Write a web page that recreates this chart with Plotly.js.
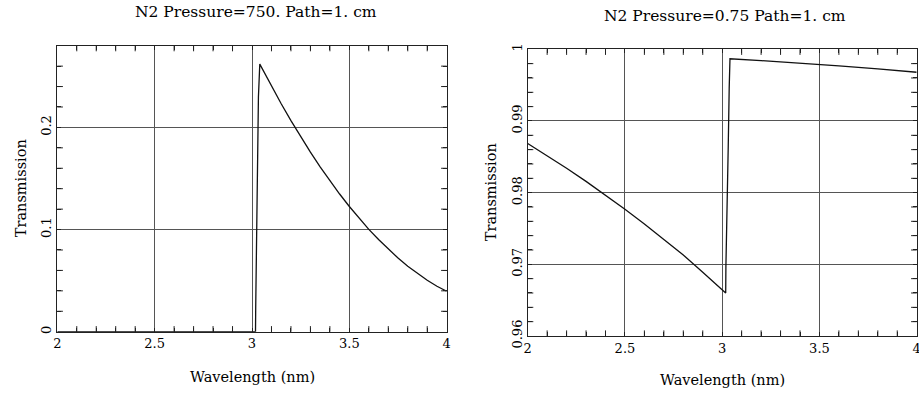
<!DOCTYPE html>
<html>
<head>
<meta charset="utf-8">
<script src="https://cdn.plot.ly/plotly-3.0.1.min.js"></script>
<style>html,body{margin:0;padding:0;background:#fff;}#chart{width:919px;height:393px;}</style>
</head>
<body>
<div id="chart"></div>
<script>
// ---- data ----
const leftTitle = "N2 Pressure=750. Path=1. cm";
const rightTitle = "N2 Pressure=0.75 Path=1. cm";
const xTitle = "Wavelength (nm)";
const yTitle = "Transmission";

const leftWavelength = [2.0, 3.018, 3.019, 3.026, 3.033, 3.040, 3.07, 3.1, 3.15, 3.2, 3.25, 3.3, 3.35, 3.4, 3.45, 3.5, 3.55, 3.6, 3.65, 3.7, 3.75, 3.8, 3.85, 3.9, 3.95, 4.0];
const leftTransmission = [0, 0, 0.023, 0.165, 0.230, 0.262, 0.2511, 0.2404, 0.2232, 0.2067, 0.1909, 0.1758, 0.1614, 0.1478, 0.1348, 0.1226, 0.1111, 0.1002, 0.0902, 0.0808, 0.0721, 0.0641, 0.0569, 0.0504, 0.0445, 0.0396];

const rightWavelength = [2.0, 2.1, 2.2, 2.3, 2.4, 2.5, 2.6, 2.7, 2.8, 2.9, 3.0, 3.018, 3.019, 3.026, 3.031, 3.036, 3.040, 3.2, 3.4, 3.6, 3.8, 4.0];
const rightTransmission = [0.98685, 0.98516, 0.98340, 0.98157, 0.97966, 0.97768, 0.97563, 0.97350, 0.97130, 0.96890, 0.96645, 0.96600, 0.9697, 0.9780, 0.9864, 0.9946, 0.99868, 0.99842, 0.99808, 0.99770, 0.99728, 0.99680];

// axis settings (ranges / tick steps)
const xRange = [2, 4], xMajor = 0.5, xMinor = 0.1;
const leftYRange = [0, 0.28], leftYMajor = 0.1, leftYMinor = 0.02;
const rightYRange = [0.96, 1.0], rightYMajor = 0.01, rightYMinor = 0.002;

// minor tick values (drawn as edge markers through the axis scales)
const xMinorTicks = [2.1, 2.2, 2.3, 2.4, 2.6, 2.7, 2.8, 2.9, 3.1, 3.2, 3.3, 3.4, 3.6, 3.7, 3.8, 3.9];
const leftYMinorTicks = [0.02, 0.04, 0.06, 0.08, 0.12, 0.14, 0.16, 0.18, 0.22, 0.24, 0.26];
const rightYMinorTicks = [0.962, 0.964, 0.966, 0.968, 0.972, 0.974, 0.976, 0.978, 0.982, 0.984, 0.986, 0.988, 0.992, 0.994, 0.996, 0.998];

const FONT = "DejaVu Serif, Liberation Serif, serif";
const W = 919, H = 393;
const px = v => v / W, py = v => 1 - v / H;

const LX = [px(57.3), px(446.7)], LY = [py(331.7), py(45.7)];
const RX = [px(527.7), px(916.7)], RY = [py(336), py(49.3)];

function xa(domain, anchor) {
  return {
    domain: domain, anchor: anchor, range: xRange, tickmode: 'linear', dtick: xMajor, tick0: xRange[0],
    showgrid: true, gridcolor: '#555', gridwidth: 1, zeroline: false,
    showline: true, linecolor: '#222', linewidth: 1, mirror: 'allticks',
    ticks: 'inside', ticklen: 4, tickcolor: '#222', tickwidth: 1,
    minor: {tickmode: 'linear', tick0: xRange[0], dtick: xMinor, ticks: 'inside', ticklen: 4, tickwidth: 1, tickcolor: '#222', showgrid: false},
    ticklabeloverflow: 'allow', automargin: false, fixedrange: true
  };
}
function ya(domain, anchor, range, dtick, minor) {
  return {
    domain: domain, anchor: anchor, range: range, tickmode: 'linear', dtick: dtick, tick0: range[0],
    showgrid: true, gridcolor: '#555', gridwidth: 1, zeroline: false,
    showline: true, linecolor: '#222', linewidth: 1, mirror: 'allticks',
    ticks: 'inside', ticklen: 4, tickcolor: '#222', tickwidth: 1, tickangle: -90,
    minor: {tickmode: 'linear', tick0: range[0], dtick: minor, ticks: 'inside', ticklen: 4, tickwidth: 1, tickcolor: '#222', showgrid: false},
    automargin: false, fixedrange: true
  };
}

// tick-mark traces: symbols centred on the frame edge, clipped so only the inner half shows
function edgeTicks(xaxis, yaxis, yRange, yMinorTicks) {
  const xs = xMinorTicks.concat(xMinorTicks);
  const ysX = xMinorTicks.map(() => yRange[0]).concat(xMinorTicks.map(() => yRange[1]));
  const xsY = yMinorTicks.map(() => xRange[0]).concat(yMinorTicks.map(() => xRange[1]));
  const ysY = yMinorTicks.concat(yMinorTicks);
  const mk = sym => ({symbol: sym, size: 8, color: '#222', line: {color: '#222', width: 1}});
  return [
    {x: xs, y: ysX, xaxis: xaxis, yaxis: yaxis, type: 'scatter', mode: 'markers', marker: mk('line-ns-open'),
     cliponaxis: true, showlegend: false, hoverinfo: 'skip'},
    {x: xsY, y: ysY, xaxis: xaxis, yaxis: yaxis, type: 'scatter', mode: 'markers', marker: mk('line-ew-open'),
     cliponaxis: true, showlegend: false, hoverinfo: 'skip'}
  ];
}

const traces = [
  {x: leftWavelength, y: leftTransmission, xaxis: 'x', yaxis: 'y', type: 'scatter', mode: 'lines',
   line: {color: '#111', width: 1.3}, showlegend: false},
  {x: rightWavelength, y: rightTransmission, xaxis: 'x2', yaxis: 'y2', type: 'scatter', mode: 'lines',
   line: {color: '#111', width: 1.3}, showlegend: false}
].concat(edgeTicks('x', 'y', leftYRange, leftYMinorTicks), edgeTicks('x2', 'y2', rightYRange, rightYMinorTicks));

function label(text, x, y, size, angle) {
  return {text: text, xref: 'paper', yref: 'paper', x: px(x), y: py(y), xanchor: 'center', yanchor: 'middle',
          textangle: angle || 0, showarrow: false, font: {family: FONT, size: size, color: '#000'}};
}

const layout = {
  width: W, height: H, margin: {l: 0, r: 0, t: 0, b: 0}, showlegend: false,
  font: {family: FONT, size: 13, color: '#000'},
  xaxis: xa(LX, 'y'),
  yaxis: ya(LY, 'x', leftYRange, leftYMajor, leftYMinor),
  xaxis2: xa(RX, 'y2'),
  yaxis2: ya(RY, 'x2', rightYRange, rightYMajor, rightYMinor),
  annotations: [
    label(leftTitle, 255.5, 12, 15.5),
    label(rightTitle, 725, 15.5, 15.5),
    label(xTitle, 252, 377, 14.5),
    label(xTitle, 722, 380, 14.5),
    label(yTitle, 20.5, 188.7, 14.5, -90),
    label(yTitle, 490.5, 192.7, 14.5, -90)
  ]
};

Plotly.newPlot('chart', traces, layout, {staticPlot: true});
</script>
</body>
</html>
